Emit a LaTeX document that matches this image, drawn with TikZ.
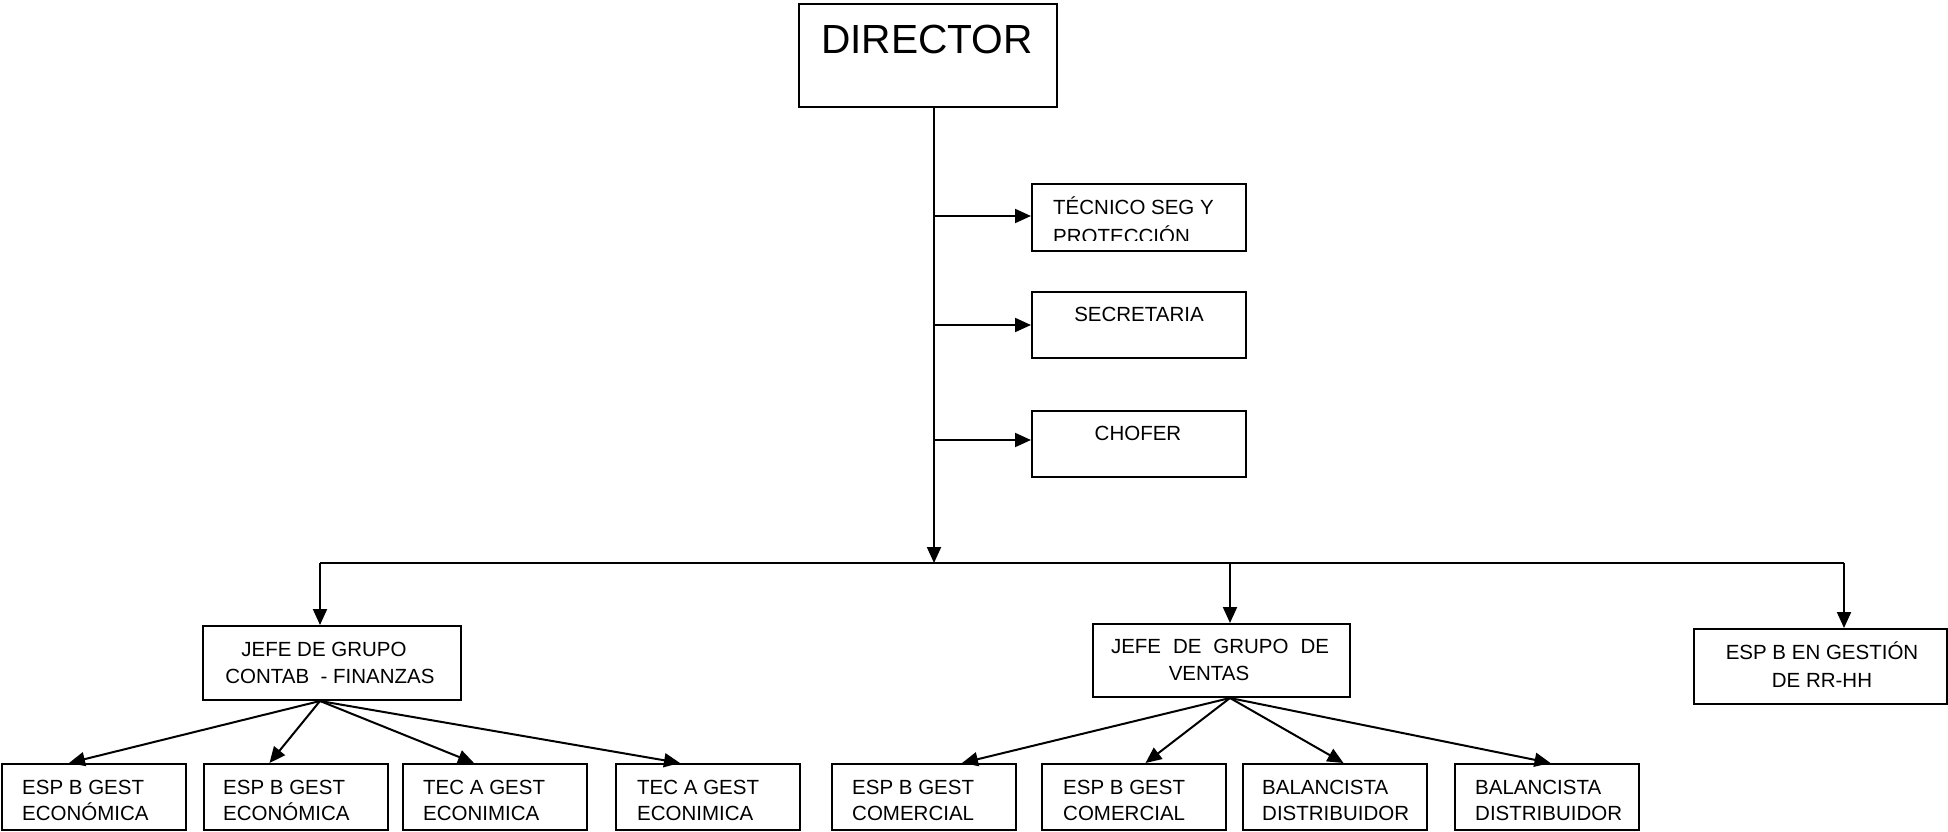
\documentclass[tikz,border=0pt]{standalone}
\usepackage{fontspec}
\setmainfont{Liberation Sans}
\usetikzlibrary{arrows.meta,calc}
\begin{document}
\begin{tikzpicture}[x=1pt,y=-1pt,
  box/.style={draw, line width=2pt, inner sep=0pt, rectangle},
  bbox/.style={box, minimum width=184pt, minimum height=66pt},
  txt/.style={inner sep=0pt, font=\fontsize{20.5}{24}\selectfont},
  big/.style={inner sep=0pt, font=\fontsize{40.7}{48}\selectfont},
  link/.style={line width=2pt},
  arr/.style={line width=2pt, -{Triangle[length=16pt,width=14pt]}}]
\useasboundingbox (0,0) rectangle (1948,832);
% boxes
\node[box, minimum width=258pt, minimum height=103pt] (dir) at (928,55.5) {};
\node[box, minimum width=214pt, minimum height=67pt] (tec) at (1139,217.5) {};
\node[box, minimum width=214pt, minimum height=66pt] (sec) at (1139,325) {};
\node[box, minimum width=214pt, minimum height=66pt] (cho) at (1139,444) {};
\node[box, minimum width=258pt, minimum height=74pt] (jc) at (332,663) {};
\node[box, minimum width=257pt, minimum height=73pt] (jv) at (1221.5,660.5) {};
\node[box, minimum width=253pt, minimum height=75pt] (rr) at (1820.5,666.5) {};
\node[bbox] (b1) at (94,797) {};
\node[bbox] (b2) at (295.5,797) {};
\node[bbox] (b3) at (495,797) {};
\node[bbox] (b4) at (708,797) {};
\node[bbox] (b5) at (924,797) {};
\node[bbox] (b6) at (1133.5,797) {};
\node[bbox] (b7) at (1334.5,797) {};
\node[bbox] (b8) at (1546.5,797) {};
% texts
\node[big, anchor=base] (tdir) at (927,54) {DIRECTOR};
\node[txt, anchor=base west] (ttec1) at (1053,214) {TÉCNICO SEG Y};
\begin{scope}
\clip (1033,185) rectangle (1245,240);
\node[txt, anchor=base west] (ttec2) at (1053,243) {PROTECCIÓN};
\end{scope}
\node[txt, anchor=base] (tsec) at (1139,321) {SECRETARIA};
\node[txt, anchor=base] (tcho) at (1138,440) {CHOFER};
\node[txt, anchor=base] (tjc1) at (324,656) {JEFE DE GRUPO};
\node[txt, anchor=base] (tjc2) at (330,683) {CONTAB\ \ - FINANZAS};
\node[txt, anchor=base] (tjv1) at (1220,653) {\makebox[218pt][s]{JEFE DE GRUPO DE}};
\node[txt, anchor=base] (tjv2) at (1209,680) {VENTAS};
\node[txt, anchor=base] (trr1) at (1822,659) {ESP B EN GESTIÓN};
\node[txt, anchor=base] (trr2) at (1822,687) {DE RR-HH};
\foreach \n/\x/\a/\b in {1/22/ESP B GEST/ECONÓMICA, 2/223/ESP B GEST/ECONÓMICA,
  3/423/TEC A GEST/ECONIMICA, 4/637/TEC A GEST/ECONIMICA,
  5/852/ESP B GEST/COMERCIAL, 6/1063/ESP B GEST/COMERCIAL,
  7/1262/BALANCISTA/DISTRIBUIDOR, 8/1475/BALANCISTA/DISTRIBUIDOR}{
  \node[txt, anchor=base west] (tb\n a) at (\x,794) {\a};
  \node[txt, anchor=base west] (tb\n b) at (\x,820) {\b};
}
% connectors
\coordinate (trunk) at (934,563);
\coordinate (busL) at (320,563);
\coordinate (busM) at (1230,563);
\coordinate (busR) at (1844,563);
\coordinate (tecin) at ($(tec.west)+(0,-1.5)$);
\coordinate (choin) at ($(cho.west)+(0,-4)$);
\draw[link] (busL) -- (busR);
\draw[arr] (dir.south -| trunk) -- (trunk);
\draw[arr] (trunk |- tecin) -- (tecin);
\draw[arr] (trunk |- sec.west) -- (sec.west);
\draw[arr] (trunk |- choin) -- (choin);
\draw[arr] (busL) -- (busL |- jc.north);
\draw[arr] (busM) -- (busM |- jv.north);
\draw[arr] (busR) -- (busR |- rr.north);
\draw[arr] (jc.south -| busL) -- ($(b1.north west)+(68,0)$);
\draw[arr] (jc.south -| busL) -- ($(b2.north west)+(67,0)$);
\draw[arr] (jc.south -| busL) -- ($(b3.north west)+(72,0)$);
\draw[arr] (jc.south -| busL) -- ($(b4.north west)+(65,0)$);
\draw[arr] (jv.south -| busM) -- ($(b5.north west)+(131,0)$);
\draw[arr] (jv.south -| busM) -- ($(b6.north west)+(105,0)$);
\draw[arr] (jv.south -| busM) -- ($(b7.north west)+(102,0)$);
\draw[arr] (jv.south -| busM) -- ($(b8.north west)+(97,0)$);
\end{tikzpicture}
\end{document}
